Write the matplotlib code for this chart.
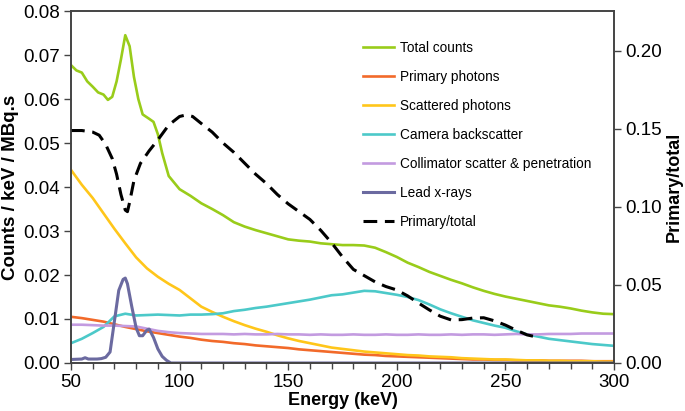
import matplotlib
matplotlib.use("Agg")
import matplotlib.pyplot as plt
from matplotlib.ticker import MultipleLocator

plt.rcParams['font.family'] = ['Liberation Sans', 'DejaVu Sans']

# -------------------------------
# Data
# -------------------------------
e_total = [50, 52.5, 55, 57.5, 60, 62.5, 65, 67, 69, 71, 73, 75, 77, 79, 81, 83, 86, 88, 90, 92,
           95, 97.5, 100, 105, 110, 115, 120, 125, 130, 135, 140, 145, 150, 155, 160, 165, 170,
           175, 180, 185, 190, 195, 200, 205, 210, 215, 220, 225, 230, 235, 240, 245, 250, 255,
           260, 265, 270, 275, 280, 285, 290, 295, 300]
total_counts = [0.0677, 0.0665, 0.0660, 0.0640, 0.0628, 0.0615, 0.0610, 0.0598, 0.0605, 0.0640,
                0.0690, 0.0745, 0.0720, 0.0650, 0.0600, 0.0565, 0.0555, 0.0548, 0.0520, 0.0477,
                0.0425, 0.0410, 0.0395, 0.0380, 0.0363, 0.0350, 0.0336, 0.0320, 0.0310, 0.0302,
                0.0295, 0.0288, 0.0281, 0.0278, 0.0276, 0.0272, 0.0270, 0.0268, 0.0268, 0.0267,
                0.0262, 0.0252, 0.0241, 0.0228, 0.0218, 0.0207, 0.0198, 0.0189, 0.0181, 0.0172,
                0.0164, 0.0157, 0.0151, 0.0146, 0.0141, 0.0136, 0.0131, 0.0128, 0.0124, 0.0119,
                0.0115, 0.0112, 0.0111]

energy = [50, 55, 60, 65, 70, 75, 80, 85, 90, 95, 100, 105, 110, 115, 120, 125, 130, 135, 140,
          145, 150, 155, 160, 165, 170, 175, 180, 185, 190, 195, 200, 205, 210, 215, 220, 225,
          230, 235, 240, 245, 250, 255, 260, 265, 270, 275, 280, 285, 290, 295, 300]
primary = [0.0105, 0.0102, 0.0098, 0.0094, 0.0088, 0.0082, 0.0077, 0.0072, 0.0068, 0.0064,
           0.0060, 0.0057, 0.0053, 0.0050, 0.0048, 0.0045, 0.0043, 0.0040, 0.0038, 0.0036,
           0.0034, 0.0031, 0.0029, 0.0027, 0.0025, 0.0023, 0.0021, 0.0019, 0.0018, 0.0016,
           0.0015, 0.0014, 0.0013, 0.0012, 0.0011, 0.0010, 0.0009, 0.0008, 0.0008, 0.0007,
           0.0007, 0.0006, 0.0006, 0.0006, 0.0005, 0.0005, 0.0005, 0.0005, 0.0004, 0.0004, 0.0004]
scattered = [0.0439, 0.0405, 0.0375, 0.0340, 0.0305, 0.0272, 0.0240, 0.0215, 0.0196, 0.0180,
             0.0166, 0.0147, 0.0128, 0.0116, 0.0105, 0.0095, 0.0086, 0.0078, 0.0071, 0.0063,
             0.0056, 0.0050, 0.0045, 0.0040, 0.0035, 0.0032, 0.0029, 0.0026, 0.0024, 0.0022,
             0.0020, 0.0018, 0.0017, 0.0015, 0.0014, 0.0013, 0.0011, 0.0010, 0.0009, 0.0008,
             0.0008, 0.0007, 0.0006, 0.0006, 0.0005, 0.0005, 0.0004, 0.0004, 0.0004, 0.0003, 0.0003]
backscatter = [0.0045, 0.0055, 0.0068, 0.0082, 0.0106, 0.0112, 0.0108, 0.0109, 0.0110, 0.0109,
               0.0108, 0.0110, 0.0110, 0.0111, 0.0113, 0.0118, 0.0121, 0.0125, 0.0128, 0.0132,
               0.0136, 0.0140, 0.0144, 0.0149, 0.0154, 0.0156, 0.0160, 0.0164, 0.0163, 0.0159,
               0.0155, 0.0150, 0.0143, 0.0133, 0.0122, 0.0113, 0.0105, 0.0097, 0.0091, 0.0085,
               0.0080, 0.0072, 0.0065, 0.0060, 0.0055, 0.0052, 0.0049, 0.0046, 0.0043, 0.0041, 0.0039]
collimator = [0.0087, 0.0087, 0.0086, 0.0085, 0.0085, 0.0084, 0.0083, 0.0078, 0.0073, 0.0070,
              0.0068, 0.0067, 0.0066, 0.0066, 0.0066, 0.0065, 0.0066, 0.0065, 0.0065, 0.0066,
              0.0065, 0.0065, 0.0064, 0.0065, 0.0064, 0.0064, 0.0065, 0.0064, 0.0064, 0.0065,
              0.0064, 0.0064, 0.0065, 0.0064, 0.0064, 0.0065, 0.0064, 0.0065, 0.0065, 0.0064,
              0.0065, 0.0066, 0.0065, 0.0065, 0.0066, 0.0066, 0.0066, 0.0067, 0.0067, 0.0067, 0.0067]

e_lead = [50, 55, 56.5, 58, 62, 64, 66, 68, 70, 72, 74, 75, 76, 78, 80, 81.5, 83, 85, 86, 88,
          90, 92, 94, 96, 100, 300]
lead_xrays = [0.0008, 0.0009, 0.0012, 0.0009, 0.0009, 0.0010, 0.0013, 0.0025, 0.0095, 0.0165,
              0.0190, 0.0193, 0.0180, 0.0128, 0.0080, 0.0062, 0.0062, 0.0075, 0.0077, 0.0058,
              0.0032, 0.0015, 0.0006, 0.0, 0.0, 0.0]

e_ratio = [50, 55, 60, 63, 66, 69, 71, 73, 75, 76, 77, 79, 82, 86, 90, 95, 100, 103, 106, 110,
           115, 120, 125, 130, 135, 140, 145, 150, 155, 160, 165, 170, 175, 180, 185, 190, 195,
           200, 205, 210, 215, 220, 225, 230, 235, 240, 245, 250, 255, 260, 265]
primary_total = [0.149, 0.149, 0.148, 0.146, 0.140, 0.131, 0.121, 0.108, 0.098, 0.097, 0.103,
                 0.117, 0.128, 0.136, 0.143, 0.1525, 0.158, 0.159, 0.158, 0.1535, 0.148, 0.141,
                 0.135, 0.128, 0.121, 0.115, 0.108, 0.102, 0.097, 0.092, 0.085, 0.077, 0.068,
                 0.060, 0.056, 0.052, 0.049, 0.0468, 0.043, 0.0384, 0.034, 0.030, 0.0276, 0.0278,
                 0.0288, 0.029, 0.027, 0.0243, 0.021, 0.018, 0.0165]

# -------------------------------
# Plot
# -------------------------------
fig = plt.figure(figsize=(6.85, 4.11), dpi=100)
ax = fig.add_axes([0.1036, 0.1168, 0.7928, 0.8564])
ax2 = ax.twinx()

lw = 1.9
l1, = ax.plot(e_total, total_counts, color='#99cc1a', lw=lw, label='Total counts')
l2, = ax.plot(energy, primary, color='#f26a2a', lw=lw, label='Primary photons')
l3, = ax.plot(energy, scattered, color='#ffc61a', lw=lw, label='Scattered photons')
l4, = ax.plot(energy, backscatter, color='#4cc9c9', lw=lw, label='Camera backscatter')
l5, = ax.plot(energy, collimator, color='#c39be0', lw=lw, label='Collimator scatter & penetration')
l6, = ax.plot(e_lead, lead_xrays, color='#6b6aa0', lw=lw + 0.3, label='Lead x-rays')
l7, = ax2.plot(e_ratio, primary_total, color='black', lw=2.2, dashes=(4.5, 2.5), label='Primary/total')

ax.set_xlim(50, 300)
ax.set_ylim(0, 0.08)
ax2.set_ylim(0, 0.2256)

ax.xaxis.set_major_locator(MultipleLocator(50))
ax.xaxis.set_minor_locator(MultipleLocator(10))
ax.yaxis.set_major_locator(MultipleLocator(0.01))
ax2.yaxis.set_major_locator(MultipleLocator(0.05))
ax.yaxis.set_major_formatter(plt.FormatStrFormatter('%.2f'))
ax2.yaxis.set_major_formatter(plt.FormatStrFormatter('%.2f'))

for a in (ax, ax2):
    for s in a.spines.values():
        s.set_color('#444444')
        s.set_linewidth(1.2)
    a.tick_params(which='major', length=5, width=1, color='#444444', labelsize=13.5, pad=3)
    a.tick_params(which='minor', length=4, width=1, color='#444444')

ax.set_xlabel('Energy (keV)', fontsize=13, fontweight='bold', labelpad=1)
ax.set_ylabel('Counts / keV / MBq.s', fontsize=13.5, fontweight='bold', labelpad=3)
ax2.set_ylabel('Primary/total', fontsize=13, fontweight='bold', labelpad=3)

handles = [l1, l2, l3, l4, l5, l6, l7]
ax2.legend(handles, [h.get_label() for h in handles], loc='upper left',
           bbox_to_anchor=(0.515, 0.95), frameon=False, fontsize=9.8,
           handlelength=2.25, handletextpad=0.5, labelspacing=1.1)

fig.savefig('out.png', dpi=100)
